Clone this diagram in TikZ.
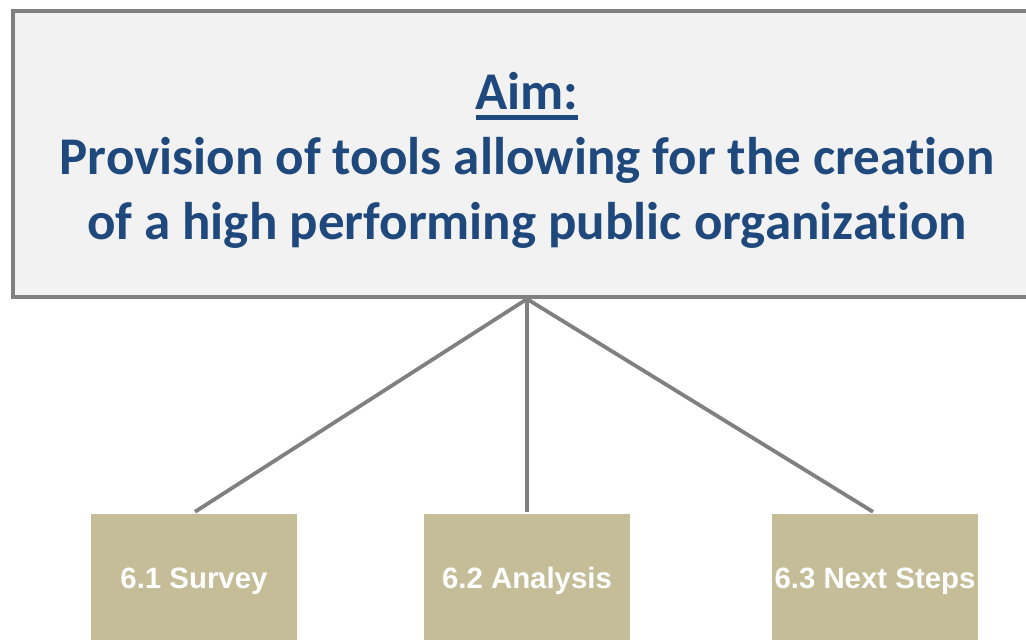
\documentclass[tikz,border=0pt]{standalone}
\usepackage{fontspec}
\setmainfont[Ligatures=NoCommon]{Carlito}
\newfontfamily\stepfont{Liberation Sans}
\usetikzlibrary{positioning}
\definecolor{aimblue}{HTML}{1F497D}
\definecolor{aimfill}{HTML}{F2F2F2}
\definecolor{linegray}{HTML}{808080}
\definecolor{steptan}{HTML}{C4BD97}
\newcommand\aimul[1]{\setbox0\hbox{#1}\rlap{\rule[-10.5pt]{\wd0}{5pt}}\box0}
\tikzset{
	aimbox/.style={draw=linegray,line width=4pt,fill=aimfill,minimum width=1028pt,minimum height=286pt},
	aimtext/.style={align=center,text=aimblue,font=\bfseries\fontsize{53}{65}\selectfont,inner sep=0pt},
	stepbox/.style={fill=steptan,minimum width=206pt,minimum height=128pt,text=white,
		font=\stepfont\bfseries\fontsize{29.4}{32}\selectfont,inner sep=0pt,text height=21pt,text depth=0pt},
	link/.style={draw=linegray,line width=3.8pt}
}
\begin{document}
\begin{tikzpicture}[x=1pt,y=-1pt]
			\useasboundingbox (0,0) rectangle (1026,640);
			\node[aimbox] (aim) at (527,154) {};
			\node[aimtext] (aimlabel) at (527,160) {\aimul{Aim:}\\Provision of tools allowing for the creation\\of a high performing public organization};
			\node[stepbox] (survey) at (194,578) {6.1 Survey};
			\node[stepbox] (analysis) at (527,578) {6.2 Analysis};
			\node[stepbox] (nextsteps) at (875,578) {6.3 Next Steps};
			\foreach \s/\dx in {survey/1,analysis/0,nextsteps/-2}
				\draw[link] (aim.south) -- ([xshift=\dx pt,yshift=2pt]\s.north);
  		\end{tikzpicture}
\end{document}
